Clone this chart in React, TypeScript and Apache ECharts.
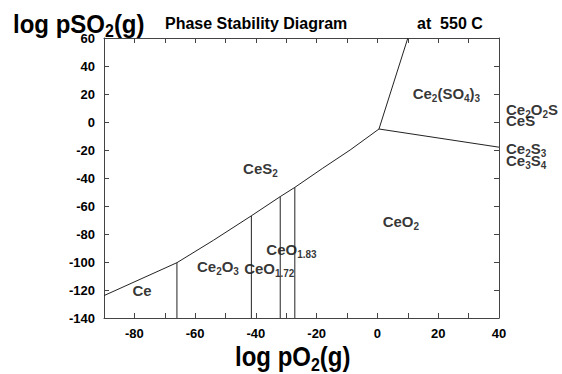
import React, { useEffect, useRef } from 'react';
import * as echarts from 'echarts';

const FONT = "'Liberation Sans', Arial, Helvetica, sans-serif";

// Boundary between metal/oxides (below) and CeS2 (above)
const sulfideCurveX = [-90, -66, -54, -41.5, -32, -27.2, -18, -9, 0.5];
const sulfideCurveY = [-124, -100.5, -84.5, -67, -53.3, -46.7, -33, -20, -5];
// CeS2 / Ce2(SO4)3 boundary
const sulfateBoundaryX = [0.5, 10];
const sulfateBoundaryY = [-5, 60];
// CeO2 / Ce2(SO4)3 boundary
const oxideSulfateX = [0.5, 40];
const oxideSulfateY = [-5, -18];
// vertical oxide boundaries (x, top y)
const verticalX = [-66, -41.5, -32, -27.2];
const verticalTopY = [-100.5, -67, -53.3, -46.7];
const yBottom = -140;

// phase labels inside the plot
const innerLabelText = [
  '{m|Ce}',
  '{m|Ce}{s|2}{m|O}{s|3}',
  '{m|CeO}{s|1.72}',
  '{m|CeO}{s|1.83}',
  '{m|CeS}{s|2}',
  '{m|CeO}{s|2}',
  '{m|Ce}{s|2}{m|(SO}{s|4}{m|)}{s|3}',
];
const innerLabelX = [-77.5, -52.5, -35.6, -28.3, -38.5, 7.7, 22.7];
const innerLabelY = [-120, -102.9, -104.3, -91.4, -32.9, -71, 20.5];

// phase labels beyond the right edge
const outerLabelText = [
  '{m|Ce}{s|2}{m|O}{s|2}{m|S}',
  '{m|CeS}',
  '{m|Ce}{s|2}{m|S}{s|3}',
  '{m|Ce}{s|3}{m|S}{s|4}',
];
const outerLabelX = [42.3, 42.3, 42.3, 42.3];
const outerLabelY = [8.6, 1.2, -18.6, -27.6];

const LINE_COLOR = '#222';

const rich = {
  m: { fontSize: 15, lineHeight: 20, fontWeight: 'bold', fontFamily: FONT, color: '#000' },
  s: { fontSize: 10, lineHeight: 11, verticalAlign: 'bottom', fontWeight: 'bold', fontFamily: FONT, color: '#000' },
};

const bigRich = {
  m: { fontSize: 24, lineHeight: 30, fontWeight: 'bold', fontFamily: FONT, fill: '#000' },
  s: { fontSize: 16, lineHeight: 18, verticalAlign: 'bottom', fontWeight: 'bold', fontFamily: FONT, fill: '#000' },
};

function zip(xs: number[], ys: number[]) {
  return xs.map((x, i) => [x, ys[i]]);
}

export default function App() {
  const ref = useRef<HTMLDivElement>(null);
  useEffect(() => {
    if (!ref.current) return;
    const chart = echarts.init(ref.current, undefined, { renderer: 'svg' });

    const lineSeries = (data: number[][]) => ({
      type: 'line',
      data,
      showSymbol: false,
      symbol: 'none',
      lineStyle: { color: LINE_COLOR, width: 1 },
      silent: true,
      clip: true,
    });

    const labelStyle = { show: true, color: '#000', textBorderWidth: 0, rich };

    const series: any[] = [
      lineSeries(zip(sulfideCurveX, sulfideCurveY)),
      lineSeries(zip(sulfateBoundaryX, sulfateBoundaryY)),
      lineSeries(zip(oxideSulfateX, oxideSulfateY)),
      ...verticalX.map((x, i) => lineSeries([[x, yBottom], [x, verticalTopY[i]]])),
      {
        type: 'scatter',
        symbolSize: 0,
        itemStyle: { color: 'transparent' },
        clip: false,
        silent: true,
        data: innerLabelX.map((x, i) => ({
          value: [x, innerLabelY[i]],
          label: { formatter: innerLabelText[i] },
        })),
        label: { ...labelStyle, position: 'inside' },
      },
      {
        type: 'scatter',
        symbolSize: 0,
        itemStyle: { color: 'transparent' },
        clip: false,
        silent: true,
        data: outerLabelX.map((x, i) => ({
          value: [x, outerLabelY[i]],
          label: { formatter: outerLabelText[i] },
        })),
        label: { ...labelStyle, position: 'right', distance: 0 },
      },
    ];

    const axisLine = { show: true, onZero: false, lineStyle: { color: '#444', width: 1 } };
    const axisTick = { show: true, inside: true, length: 5, lineStyle: { color: '#444' } };
    const tickLabel = { fontSize: 13, fontWeight: 'bold', fontFamily: FONT, color: '#000' };

    chart.setOption({
      animation: false,
      backgroundColor: '#fff',
      grid: { left: 104, right: 63, top: 38, bottom: 56 },
      xAxis: [
        {
          type: 'value', min: -90, max: 40, interval: 10, position: 'bottom',
          axisLine, axisTick, splitLine: { show: false },
          axisLabel: { ...tickLabel, margin: 9, formatter: (v: number) => (v % 20 === 0 ? String(v) : '') },
        },
        {
          type: 'value', min: -90, max: 40, interval: 10, position: 'top',
          axisLine, axisTick, splitLine: { show: false }, axisLabel: { show: false },
        },
      ],
      yAxis: [
        {
          type: 'value', min: -140, max: 60, interval: 20, position: 'left',
          axisLine, axisTick, splitLine: { show: false },
          axisLabel: { ...tickLabel, margin: 9 },
        },
        {
          type: 'value', min: -140, max: 60, interval: 20, position: 'right',
          axisLine, axisTick, splitLine: { show: false }, axisLabel: { show: false },
        },
      ],
      graphic: [
        {
          type: 'text', x: 13, y: 7, scaleY: 1.09,
          style: { text: '{m|log pSO}{s|2}{m|(g)}', rich: bigRich, verticalAlign: 'top' },
        },
        {
          type: 'text', x: 235, y: 338.5, scaleY: 1.18,
          style: { text: '{m|log pO}{s|2}{m|(g)}', rich: bigRich, verticalAlign: 'top' },
        },
        {
          type: 'text', x: 165, y: 15,
          style: { text: 'Phase Stability Diagram', fontSize: 16, fontWeight: 'bold', fontFamily: FONT, fill: '#000', verticalAlign: 'top' },
        },
        {
          type: 'text', x: 417, y: 15,
          style: { text: 'at  550 C', fontSize: 16, fontWeight: 'bold', fontFamily: FONT, fill: '#000', verticalAlign: 'top' },
        },
      ],
      series,
    });
    return () => chart.dispose();
  }, []);
  return <div ref={ref} style={{ position: 'absolute', left: 0, top: 0, width: 562, height: 374 }} />;
}
